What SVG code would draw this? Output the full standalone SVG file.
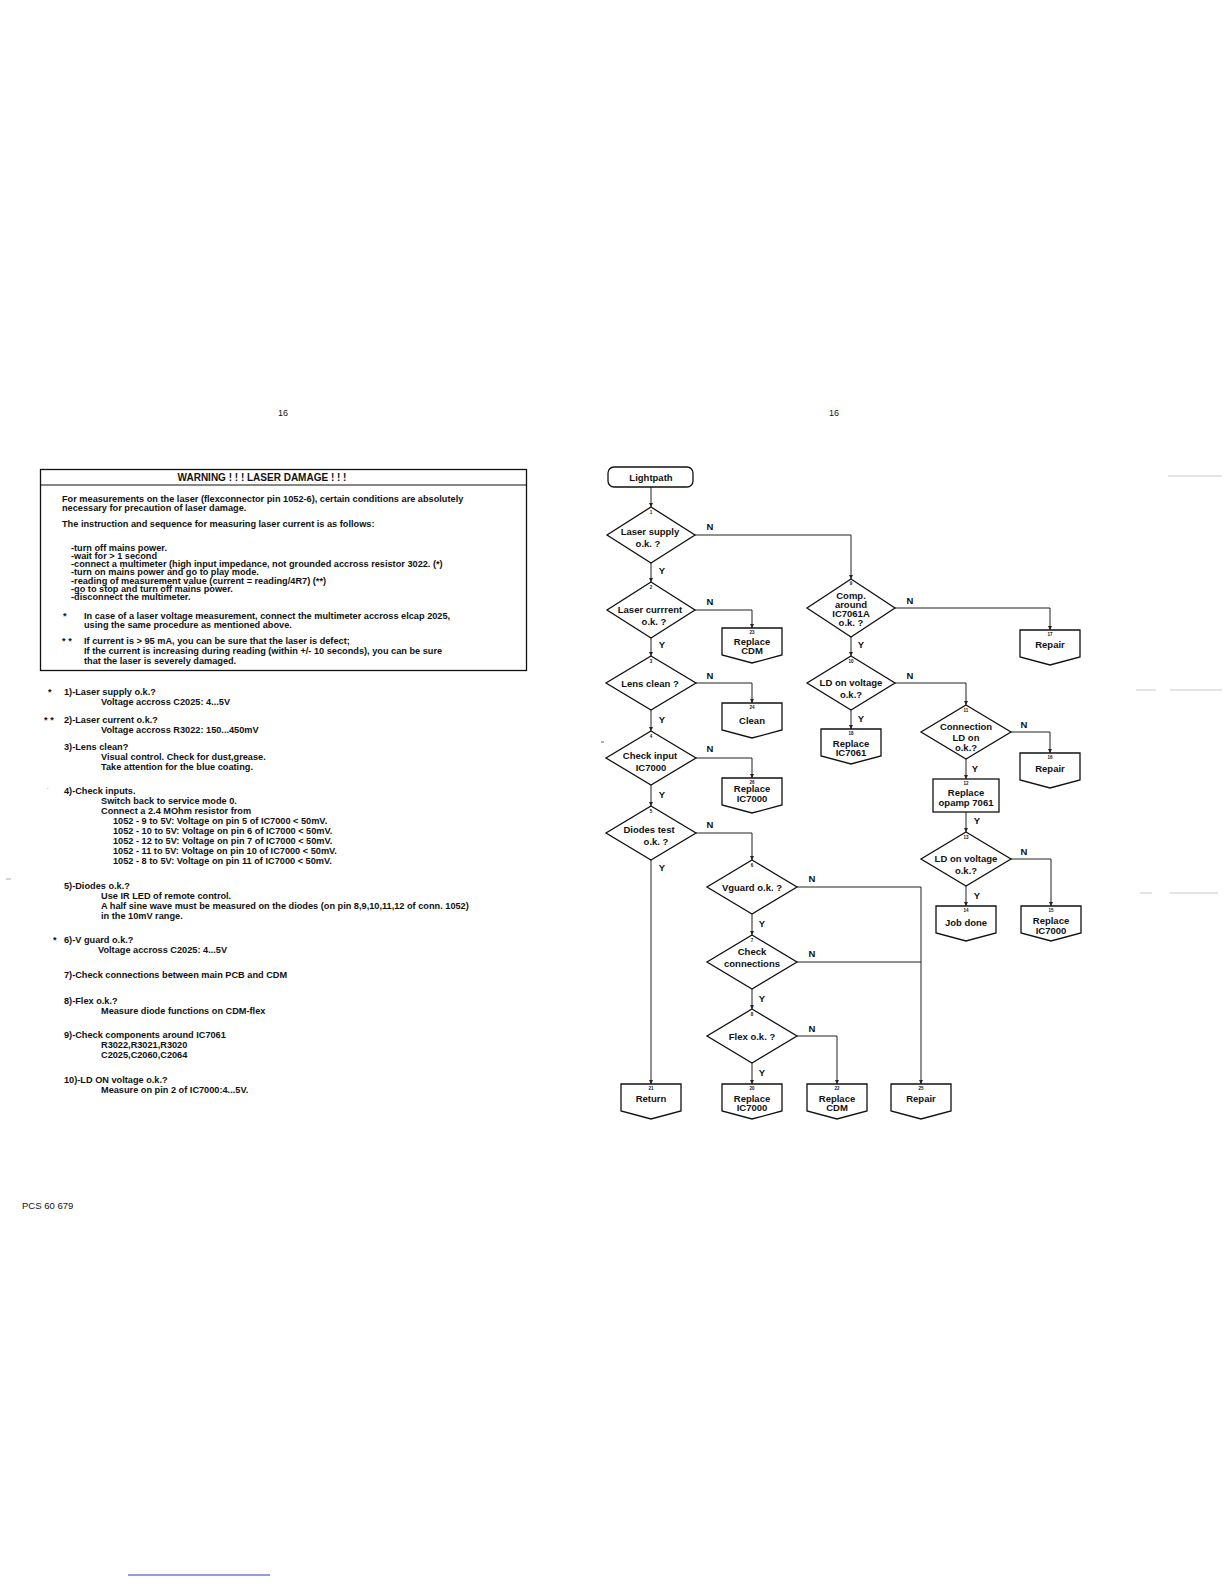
<svg xmlns="http://www.w3.org/2000/svg" width="1224" height="1584" viewBox="0 0 1224 1584">
<defs>
<style>
.t{font-family:"Liberation Sans",Arial,Helvetica,sans-serif;font-weight:bold;fill:#111}
.r{font-family:"Liberation Sans",Arial,Helvetica,sans-serif;fill:#111}
.fc{font-size:9.5px;text-anchor:middle}
.yn{font-size:9.5px;text-anchor:middle}
.num{font-size:4.5px;text-anchor:middle}
.lt{font-size:9.2px}
.sh{fill:#fff;stroke:#111;stroke-width:1.3}
.cn{fill:none;stroke:#222;stroke-width:1}
.fa{stroke:#c8c8c8;stroke-width:1;fill:none}
</style>
<marker id="arr" viewBox="0 0 6 6" refX="6" refY="3" markerWidth="4" markerHeight="4" orient="auto" markerUnits="userSpaceOnUse"><path d="M0,0 L6,3 L0,6 Z" fill="#222"/></marker>
</defs>
<rect width="1224" height="1584" fill="#fff"/>

<!-- page headers -->
<text class="r" x="283" y="416" font-size="9" text-anchor="middle">16</text>
<text class="r" x="834" y="416" font-size="9" text-anchor="middle">16</text>

<!-- warning box -->
<g id="warning">
<rect x="40.5" y="469.5" width="486" height="201" fill="none" stroke="#111" stroke-width="1.3"/>
<line x1="40.5" y1="485" x2="526.5" y2="485" stroke="#111" stroke-width="1.2"/>
<text class="t" x="262" y="480.5" font-size="10" text-anchor="middle">WARNING ! ! ! LASER DAMAGE ! ! !</text>
<g class="t lt">
<text x="62" y="501.5">For measurements on the laser (flexconnector pin 1052-6), certain conditions are absolutely</text>
<text x="62" y="511">necessary for precaution of laser damage.</text>
<text x="62" y="526.5">The instruction and sequence for measuring laser current is as follows:</text>
<text x="71" y="550.5">-turn off mains power.</text>
<text x="71" y="558.5">-wait for &gt; 1 second</text>
<text x="71" y="566.8">-connect a multimeter (high input impedance, not grounded accross resistor 3022. (*)</text>
<text x="71" y="575.2">-turn on mains power and go to play mode.</text>
<text x="71" y="583.5">-reading of measurement value (current = reading/4R7) (**)</text>
<text x="71" y="591.8">-go to stop and turn off mains power.</text>
<text x="71" y="600.2">-disconnect the multimeter.</text>
<text x="63" y="619">*</text>
<text x="84" y="619">In case of a laser voltage measurement, connect the multimeter accross elcap 2025,</text>
<text x="84" y="627.5">using the same procedure as mentioned above.</text>
<text x="62" y="643.5">* *</text>
<text x="84" y="643.5">If current is &gt; 95 mA, you can be sure that the laser is defect;</text>
<text x="84" y="653.5">If the current is increasing during reading (within +/- 10 seconds), you can be sure</text>
<text x="84" y="663.5">that the laser is severely damaged.</text>
</g>
</g>

<!-- step list -->
<g id="steps" class="t lt">
<text x="48" y="694.5">*</text>
<text x="64" y="694.5">1)-Laser supply o.k.?</text>
<text x="101" y="705">Voltage accross C2025: 4...5V</text>
<text x="44" y="722.5">* *</text>
<text x="64" y="722.5">2)-Laser current o.k.?</text>
<text x="101" y="732.5">Voltage accross R3022: 150...450mV</text>
<text x="64" y="749.5">3)-Lens clean?</text>
<text x="101" y="759.5">Visual control. Check for dust,grease.</text>
<text x="101" y="770">Take attention for the blue coating.</text>
<text x="47" y="789" font-size="5" fill="#999">.</text>
<text x="64" y="793.5">4)-Check inputs.</text>
<text x="101" y="803.5">Switch back to service mode 0.</text>
<text x="101" y="813.5">Connect a 2.4 MOhm resistor from</text>
<text x="113" y="824">1052 - 9 to 5V: Voltage on pin 5 of IC7000 &lt; 50mV.</text>
<text x="113" y="834">1052 - 10 to 5V: Voltage on pin 6 of IC7000 &lt; 50mV.</text>
<text x="113" y="844">1052 - 12 to 5V: Voltage on pin 7 of IC7000 &lt; 50mV.</text>
<text x="113" y="853.5">1052 - 11 to 5V: Voltage on pin 10 of IC7000 &lt; 50mV.</text>
<text x="113" y="863.5">1052 - 8 to 5V: Voltage on pin 11 of IC7000 &lt; 50mV.</text>
<text x="64" y="888.5">5)-Diodes o.k.?</text>
<text x="101" y="898.5">Use IR LED of remote control.</text>
<text x="101" y="909">A half sine wave must be measured on the diodes (on pin 8,9,10,11,12 of conn. 1052)</text>
<text x="101" y="918.5">in the 10mV range.</text>
<text x="53" y="942.5">*</text>
<text x="64" y="942.5">6)-V guard o.k.?</text>
<text x="98" y="953">Voltage accross C2025: 4...5V</text>
<text x="64" y="978">7)-Check connections between main PCB and CDM</text>
<text x="64" y="1003.5">8)-Flex o.k.?</text>
<text x="101" y="1013.5">Measure diode functions on CDM-flex</text>
<text x="64" y="1037.5">9)-Check components around IC7061</text>
<text x="101" y="1047.5">R3022,R3021,R3020</text>
<text x="101" y="1057.5">C2025,C2060,C2064</text>
<text x="64" y="1082.5">10)-LD ON voltage o.k.?</text>
<text x="101" y="1092.5">Measure on pin 2 of IC7000:4...5V.</text>
</g>

<text class="r" x="22" y="1208.5" font-size="9.5">PCS 60 679</text>
<line x1="128" y1="1575" x2="270" y2="1575" stroke="#2a3cc0" stroke-width="1.2"/>

<!-- faint scan artifacts at the right edge -->
<g id="artifacts">
<line class="fa" x1="1168" y1="476" x2="1222" y2="476"/>
<line class="fa" x1="1136" y1="690" x2="1156" y2="690"/>
<line class="fa" x1="1170" y1="690" x2="1222" y2="690"/>
<line class="fa" x1="1140" y1="893" x2="1152" y2="893"/>
<line class="fa" x1="1170" y1="893" x2="1218" y2="893"/>
<line x1="6" y1="879" x2="11" y2="879" stroke="#999" stroke-width="0.8"/>
<line x1="601" y1="742" x2="604" y2="742" stroke="#444" stroke-width="0.8"/>
</g>

<!-- connectors -->
<g id="connectors" class="cn" marker-end="url(#arr)">
<path d="M651,487 V507"/>
<path d="M651,563 V582"/>
<path d="M651,638 V656"/>
<path d="M651,710 V731"/>
<path d="M651,785 V806"/>
<path d="M651,860 V1084"/>
<path d="M695,535 H851 V579"/>
<path d="M695,610 H752 V628"/>
<path d="M696,683 H752 V703"/>
<path d="M696,758 H752 V778"/>
<path d="M696,833 H752 V860"/>
<path d="M752,914 V935"/>
<path d="M752,989 V1009"/>
<path d="M752,1063 V1084"/>
<path d="M797,887 H921 V1084"/>
<path d="M797,962 H921" marker-end="none"/>
<path d="M797,1036 H837 V1084"/>
<path d="M851,637 V656"/>
<path d="M851,710 V729"/>
<path d="M895,608 H1050 V630"/>
<path d="M895,683 H966 V705"/>
<path d="M966,759 V779"/>
<path d="M1011,732 H1050 V753"/>
<path d="M966,812 V832"/>
<path d="M966,886 V906"/>
<path d="M1011,859 H1051 V906"/>
</g>

<!-- Y / N labels -->
<g id="labels" class="t yn">
<text x="710" y="529.5">N</text><text x="662" y="574">Y</text>
<text x="710" y="604.5">N</text><text x="662" y="648">Y</text>
<text x="710" y="678.5">N</text><text x="662" y="723">Y</text>
<text x="710" y="752">N</text><text x="662" y="798">Y</text>
<text x="710" y="827.5">N</text><text x="662" y="871">Y</text>
<text x="812" y="881.5">N</text><text x="762" y="926.5">Y</text>
<text x="812" y="956.5">N</text><text x="762" y="1002">Y</text>
<text x="812" y="1031.5">N</text><text x="762" y="1076">Y</text>
<text x="910" y="603.5">N</text><text x="861" y="648">Y</text>
<text x="910" y="678.5">N</text><text x="861" y="722">Y</text>
<text x="1024" y="727.5">N</text><text x="975" y="772">Y</text>
<text x="977" y="824">Y</text>
<text x="1024" y="854.5">N</text><text x="977" y="898.5">Y</text>
</g>

<!-- nodes -->
<g id="n-lightpath">
<rect class="sh" x="608" y="467" width="85" height="20" rx="6"/>
<text class="t fc" x="651" y="480.5">Lightpath</text>
</g>
<g id="n1">
<polygon class="sh" points="651,507 695,535 651,563 607,535"/>
<text class="t num" x="651" y="514">1</text>
<text class="t fc" x="650" y="534.5">Laser supply</text>
<text class="t fc" x="648" y="546.5">o.k. ?</text>
</g>
<g id="n2">
<polygon class="sh" points="651,582 695,610 651,638 607,610"/>
<text class="t num" x="651" y="589">2</text>
<text class="t fc" x="650" y="612.5">Laser currrent</text>
<text class="t fc" x="654" y="624.5">o.k. ?</text>
</g>
<g id="n3">
<polygon class="sh" points="651,656 696,683 651,710 606,683"/>
<text class="t num" x="651" y="663">3</text>
<text class="t fc" x="650" y="686.5">Lens clean ?</text>
</g>
<g id="n4">
<polygon class="sh" points="651,731 696,758 651,785 606,758"/>
<text class="t num" x="651" y="738">4</text>
<text class="t fc" x="650" y="758.5">Check input</text>
<text class="t fc" x="651" y="770.5">IC7000</text>
</g>
<g id="n5">
<polygon class="sh" points="651,806 696,833 651,860 606,833"/>
<text class="t num" x="651" y="813">5</text>
<text class="t fc" x="649" y="832.5">Diodes test</text>
<text class="t fc" x="656" y="845">o.k. ?</text>
</g>
<g id="n6">
<polygon class="sh" points="752,860 797,887 752,914 707,887"/>
<text class="t num" x="752" y="867">6</text>
<text class="t fc" x="752" y="890.5">Vguard o.k. ?</text>
</g>
<g id="n7">
<polygon class="sh" points="752,935 797,962 752,989 707,962"/>
<text class="t num" x="752" y="942">7</text>
<text class="t fc" x="752" y="954.5">Check</text>
<text class="t fc" x="752" y="966.5">connections</text>
</g>
<g id="n8">
<polygon class="sh" points="752,1009 797,1036 752,1063 707,1036"/>
<text class="t num" x="752" y="1016">8</text>
<text class="t fc" x="752" y="1040">Flex o.k. ?</text>
</g>
<g id="n9">
<polygon class="sh" points="851,579 895,608 851,637 807,608"/>
<text class="t num" x="851" y="585">9</text>
<text class="t fc" x="851" y="598.5">Comp.</text>
<text class="t fc" x="851" y="607.5">around</text>
<text class="t fc" x="851" y="616.5">IC7061A</text>
<text class="t fc" x="851" y="625.5">o.k. ?</text>
</g>
<g id="n10">
<polygon class="sh" points="851,656 895,683 851,710 807,683"/>
<text class="t num" x="851" y="663">10</text>
<text class="t fc" x="851" y="686">LD on voltage</text>
<text class="t fc" x="851" y="698">o.k.?</text>
</g>
<g id="n11">
<polygon class="sh" points="966,705 1011,732 966,759 921,732"/>
<text class="t num" x="966" y="712">11</text>
<text class="t fc" x="966" y="729.5">Connection</text>
<text class="t fc" x="966" y="740.5">LD on</text>
<text class="t fc" x="966" y="751">o.k.?</text>
</g>
<g id="n12">
<rect class="sh" x="933" y="779" width="66" height="33"/>
<text class="t num" x="966" y="785">12</text>
<text class="t fc" x="966" y="795.5">Replace</text>
<text class="t fc" x="966" y="805.5">opamp 7061</text>
</g>
<g id="n13">
<polygon class="sh" points="966,832 1011,859 966,886 921,859"/>
<text class="t num" x="966" y="839">13</text>
<text class="t fc" x="966" y="861.5">LD on voltage</text>
<text class="t fc" x="966" y="873.5">o.k.?</text>
</g>
<g id="n14">
<path class="sh" d="M936,906 H996 V933 L966,941 L936,933 Z"/>
<text class="t num" x="966" y="912">14</text>
<text class="t fc" x="966" y="926">Job done</text>
</g>
<g id="n15">
<path class="sh" d="M1021,906 H1081 V933 L1051,941 L1021,933 Z"/>
<text class="t num" x="1051" y="912">15</text>
<text class="t fc" x="1051" y="924">Replace</text>
<text class="t fc" x="1051" y="933.5">IC7000</text>
</g>
<g id="n16">
<path class="sh" d="M1020,753 H1080 V780 L1050,788 L1020,780 Z"/>
<text class="t num" x="1050" y="759">16</text>
<text class="t fc" x="1050" y="771.5">Repair</text>
</g>
<g id="n17">
<path class="sh" d="M1020,630 H1080 V657 L1050,665 L1020,657 Z"/>
<text class="t num" x="1050" y="636">17</text>
<text class="t fc" x="1050" y="647.5">Repair</text>
</g>
<g id="n18">
<path class="sh" d="M821,729 H881 V756 L851,764 L821,756 Z"/>
<text class="t num" x="851" y="735">18</text>
<text class="t fc" x="851" y="746.5">Replace</text>
<text class="t fc" x="851" y="756">IC7061</text>
</g>
<g id="n21">
<path class="sh" d="M621,1084 H681 V1111 L651,1119 L621,1111 Z"/>
<text class="t num" x="651" y="1090">21</text>
<text class="t fc" x="651" y="1101.5">Return</text>
</g>
<g id="n20">
<path class="sh" d="M722,1084 H782 V1111 L752,1119 L722,1111 Z"/>
<text class="t num" x="752" y="1090">20</text>
<text class="t fc" x="752" y="1101.5">Replace</text>
<text class="t fc" x="752" y="1111">IC7000</text>
</g>
<g id="n22">
<path class="sh" d="M807,1084 H867 V1111 L837,1119 L807,1111 Z"/>
<text class="t num" x="837" y="1090">22</text>
<text class="t fc" x="837" y="1101.5">Replace</text>
<text class="t fc" x="837" y="1111">CDM</text>
</g>
<g id="n23">
<path class="sh" d="M722,628 H782 V655 L752,663 L722,655 Z"/>
<text class="t num" x="752" y="634">23</text>
<text class="t fc" x="752" y="644.5">Replace</text>
<text class="t fc" x="752" y="654">CDM</text>
</g>
<g id="n24">
<path class="sh" d="M722,703 H782 V730 L752,738 L722,730 Z"/>
<text class="t num" x="752" y="709">24</text>
<text class="t fc" x="752" y="723.5">Clean</text>
</g>
<g id="n25">
<path class="sh" d="M891,1084 H951 V1111 L921,1119 L891,1111 Z"/>
<text class="t num" x="921" y="1090">25</text>
<text class="t fc" x="921" y="1101.5">Repair</text>
</g>
<g id="n26">
<path class="sh" d="M722,778 H782 V805 L752,813 L722,805 Z"/>
<text class="t num" x="752" y="784">26</text>
<text class="t fc" x="752" y="791.5">Replace</text>
<text class="t fc" x="752" y="801.5">IC7000</text>
</g>
</svg>
